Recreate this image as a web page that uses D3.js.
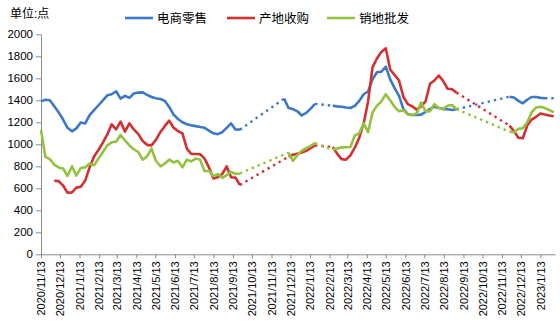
<!DOCTYPE html>
<html>
<head>
<meta charset="utf-8">
<script src="https://cdn.jsdelivr.net/npm/d3@7"></script>
<style>
  html, body { margin: 0; padding: 0; background: #fff; }
  svg { display: block; }
  text { font-family: "Liberation Sans", Arial, "Noto Sans CJK SC", sans-serif; fill: #000; }
</style>
</head>
<body>
<svg id="chart" width="560" height="334"></svg>
<script>
// ---------- data ----------
const startDate = "2020/11/13";   // first weekly observation
const endDate = "2023/2/5";       // right end of date axis
const seriesNames = ["电商零售", "产地收购", "销地批发"];
const seriesColors = ["#3c78c8", "#d4302f", "#93c23f"];

const retail = [
  1390,1405,1400,1345,1290,1225,1150,1118,1145,1198,1190,1265,1310,1355,1400,1445,1455,1482,1415,1440,
  1422,1462,1470,1472,1450,1430,1418,1412,1395,1340,1270,1230,1200,1182,1172,1165,1158,1150,1125,1100,
  1092,1110,1150,1190,1135,1133,
  null,null,null,null,null,null,null,null,null,
  1415,1330,1320,1300,1262,1285,1325,1368,
  null,null,null,
  1350,1345,1342,1335,1330,1350,1395,1455,1480,1590,1655,1660,1705,1590,1510,1440,1320,1275,1266,1266,
  1270,1295,1320,1342,1330,1320,1318,1312,1318,
  null,null,null,null,null,null,null,null,null,null,null,
  1433,1425,1395,1373,1405,1430,1430,1422,1418,
  null,
  1418
];

const origin = [
  null,null,null,
  669,665,625,560,563,606,615,670,790,890,948,1015,1090,1182,1136,1206,1115,1191,1135,1095,1030,995,
  990,1040,1110,1165,1215,1150,1120,1100,960,912,912,910,870,790,690,700,730,800,700,697,630,
  null,null,null,null,null,null,null,null,null,null,
  888,905,915,925,940,965,990,
  null,null,null,
  975,915,865,860,900,970,1060,1190,1390,1700,1780,1840,1873,1680,1630,1580,1430,1365,1345,1315,
  1345,1390,1550,1580,1625,1575,1505,1500,1470,
  null,null,null,null,null,null,null,null,null,null,null,
  1170,1120,1060,1055,1170,1225,1250,1280,1270,1262,1255
];

const wholesale = [
  1130,885,865,815,790,780,712,800,715,785,790,825,810,870,930,990,1018,1024,1085,1035,
  990,955,930,860,890,960,850,800,825,860,835,850,790,860,845,870,860,755,760,710,
  730,695,720,750,730,735,
  null,null,null,null,null,null,null,null,null,null,
  925,850,900,942,965,985,1012,
  null,null,null,
  950,962,972,973,975,1080,1100,1190,1110,1290,1350,1390,1455,1400,1340,1300,1310,1270,1266,1280,
  1380,1300,1300,1365,1330,1320,1350,1357,1320,
  null,null,null,null,null,null,null,null,null,null,null,
  1115,1110,1140,1145,1200,1290,1335,1342,1330,1310,1290
];

const yTicks = [0,200,400,600,800,1000,1200,1400,1600,1800,2000];
const xTickLabels = [
  "2020/11/13","2020/12/13","2021/1/13","2021/2/13","2021/3/13","2021/4/13","2021/5/13",
  "2021/6/13","2021/7/13","2021/8/13","2021/9/13","2021/10/13","2021/11/13","2021/12/13",
  "2022/1/13","2022/2/13","2022/3/13","2022/4/13","2022/5/13","2022/6/13","2022/7/13",
  "2022/8/13","2022/9/13","2022/10/13","2022/11/13","2022/12/13","2023/1/13"
];
const unitLabel = "单位:点";

// ---------- chart ----------
const svg = d3.select("#chart");
const parse = d3.timeParse("%Y/%m/%d");
const t0 = parse(startDate);
const dates = retail.map((_, i) => d3.timeDay.offset(t0, 7 * i));

const x = d3.scaleTime().domain([t0, parse(endDate)]).range([41, 555]);
const y = d3.scaleLinear().domain([0, 2000]).range([254.3, 34.3]);

const axisColor = "#8c8c8c";

// y axis
const yAxis = svg.append("g")
  .attr("transform", "translate(41,0)")
  .call(d3.axisLeft(y).tickValues(yTicks).tickFormat(d3.format("d"))
    .tickSize(5).tickSizeOuter(0).tickPadding(3));
yAxis.select(".domain").attr("stroke", axisColor);
yAxis.selectAll(".tick line").attr("stroke", axisColor);
yAxis.selectAll(".tick text").attr("font-size", 11.5).attr("font-family", "Liberation Sans, Arial, sans-serif").attr("fill", "#000");

// x axis
const xTickDates = xTickLabels.map(parse);
const xAxis = svg.append("g")
  .attr("transform", "translate(0,254.3)")
  .call(d3.axisBottom(x).tickValues(xTickDates).tickSize(4).tickSizeOuter(0)
    .tickFormat((d, i) => xTickLabels[i]));
xAxis.select(".domain").attr("stroke", axisColor);
xAxis.selectAll(".tick line").attr("stroke", axisColor);
xAxis.selectAll(".tick text")
  .attr("font-size", 11)
  .attr("font-family", "Liberation Sans, Arial, sans-serif")
  .attr("fill", "#000")
  .attr("text-anchor", "end")
  .attr("transform", "rotate(-90)")
  .attr("x", -7)
  .attr("y", 0)
  .attr("dy", "0.35em");

// series lines
const allSeries = [retail, origin, wholesale];
const plot = svg.append("g");

allSeries.forEach((vals, si) => {
  const pts = vals.map((v, i) => ({ d: dates[i], v }));
  const color = seriesColors[si];
  // dotted connectors across gaps
  const defIdx = pts.map((p, i) => p.v != null ? i : -1).filter(i => i >= 0);
  for (let k = 1; k < defIdx.length; k++) {
    if (defIdx[k] - defIdx[k - 1] > 1) {
      const a = pts[defIdx[k - 1]], b = pts[defIdx[k]];
      plot.append("path")
        .datum([a, b])
        .attr("fill", "none")
        .attr("stroke", color)
        .attr("stroke-width", 2.4)
        .attr("stroke-dasharray", "2.4,4")
        .attr("d", d3.line().x(p => x(p.d)).y(p => y(p.v)));
    }
  }
  // solid line
  plot.append("path")
    .datum(pts)
    .attr("fill", "none")
    .attr("stroke", color)
    .attr("stroke-width", 2.6)
    .attr("stroke-linejoin", "round")
    .attr("d", d3.line().defined(p => p.v != null).x(p => x(p.d)).y(p => y(p.v)));
});

// unit label
svg.append("text")
  .attr("x", 10).attr("y", 18)
  .attr("font-size", 12)
  .attr("font-family", "Noto Sans CJK SC, sans-serif")
  .text(unitLabel);

// legend
const legendX = [125, 227, 327];
seriesNames.forEach((name, i) => {
  const g = svg.append("g").attr("transform", `translate(${legendX[i]},18)`);
  g.append("line").attr("x1", 0).attr("x2", 28).attr("y1", 0).attr("y2", 0)
    .attr("stroke", seriesColors[i]).attr("stroke-width", 2.6);
  g.append("text").attr("x", 32).attr("y", 0).attr("dy", "0.36em")
    .attr("font-size", 12.5)
    .attr("font-family", "Noto Sans CJK SC, sans-serif")
    .text(name);
});
</script>
</body>
</html>
